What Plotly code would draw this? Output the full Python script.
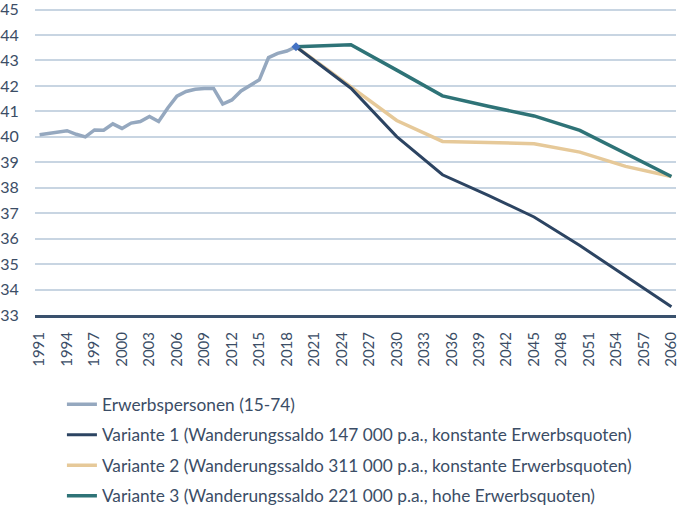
import plotly.graph_objects as go

# Historical labour force (millions), 1991-2019
hist_years = list(range(1991, 2020))
hist_values = [40.08, 40.13, 40.18, 40.24, 40.10, 40.00, 40.27, 40.26, 40.51, 40.33,
               40.54, 40.60, 40.80, 40.60, 41.13, 41.60, 41.78, 41.87, 41.90, 41.90,
               41.29, 41.45, 41.80, 42.04, 42.24, 43.11, 43.28, 43.37, 43.54]

proj_years = [2019, 2025, 2030, 2035, 2040, 2045, 2050, 2055, 2060]
v1_values = [43.54, 41.91, 40.01, 38.51, 37.70, 36.85, 35.73, 34.52, 33.32]
v2_values = [43.54, 41.98, 40.64, 39.82, 39.78, 39.73, 39.40, 38.84, 38.44]
v3_values = [43.54, 43.62, 42.62, 41.61, 41.20, 40.82, 40.25, 39.35, 38.44]

x_ticks = list(range(1991, 2061, 3))
y_ticks = list(range(33, 46))
y_tick_labels = [str(v) for v in y_ticks]

names = [
    "Erwerbspersonen (15-74)",
    "Variante 1 (Wanderungssaldo 147 000 p.a., konstante Erwerbsquoten)",
    "Variante 2 (Wanderungssaldo 311 000 p.a., konstante Erwerbsquoten)",
    "Variante 3 (Wanderungssaldo 221 000 p.a., hohe Erwerbsquoten)",
]

c_hist = "#95A8BF"
c_v1 = "#2C4462"
c_v2 = "#E6C999"
c_v3 = "#2E7377"
text_col = "#3B4D66"

fig = go.Figure()
fig.add_trace(go.Scatter(x=proj_years, y=v2_values, mode="lines", name=names[2],
                         line=dict(color=c_v2, width=3.5), legendrank=3, legendgroup="g3"))
fig.add_trace(go.Scatter(x=proj_years, y=v1_values, mode="lines", name=names[1],
                         line=dict(color=c_v1, width=3), legendrank=2, legendgroup="g2"))
fig.add_trace(go.Scatter(x=proj_years, y=v3_values, mode="lines", name=names[3],
                         line=dict(color=c_v3, width=3.5), legendrank=4, legendgroup="g4"))
fig.add_trace(go.Scatter(x=hist_years, y=hist_values, mode="lines", name=names[0],
                         line=dict(color=c_hist, width=3.5), legendrank=1, legendgroup="g1"))
fig.add_trace(go.Scatter(x=[hist_years[-1]], y=[hist_values[-1]], mode="markers",
                         marker=dict(symbol="diamond", size=7, color="#4472C4"),
                         showlegend=False))

fig.update_layout(
    width=685, height=508,
    margin=dict(l=35, r=9, t=6.5, b=193, autoexpand=False),
    paper_bgcolor="white", plot_bgcolor="white",
    font=dict(family="Lato", size=17, color=text_col),
    xaxis=dict(range=[1990.5, 2060.5], tickvals=x_ticks, tickangle=-90,
               showgrid=False, zeroline=False, showline=True, linecolor="#3A516D",
               linewidth=3, ticks="outside", ticklen=8, tickcolor="rgba(0,0,0,0)",
               automargin=False, tickfont=dict(size=15, color=text_col)),
    yaxis=dict(range=[33, 45.1], tickmode="array", tickvals=y_ticks,
               ticktext=y_tick_labels, side="left", ticklabeloverflow="allow",
               showgrid=True, gridcolor="#C8D5E2",
               gridwidth=1.5, zeroline=False, showline=False,
               ticks="outside", ticklen=12, tickcolor="rgba(0,0,0,0)",
               automargin=False, tickfont=dict(size=16, color=text_col)),
    legend=dict(orientation="v", x=0.042, y=-0.232, xanchor="left", yanchor="top",
                tracegroupgap=5, font=dict(size=17.3, color=text_col),
                bgcolor="rgba(0,0,0,0)"),
    showlegend=True,
)

fig.write_html("out.html", config={"displayModeBar": False},
               post_script="document.body.style.margin='0';")
